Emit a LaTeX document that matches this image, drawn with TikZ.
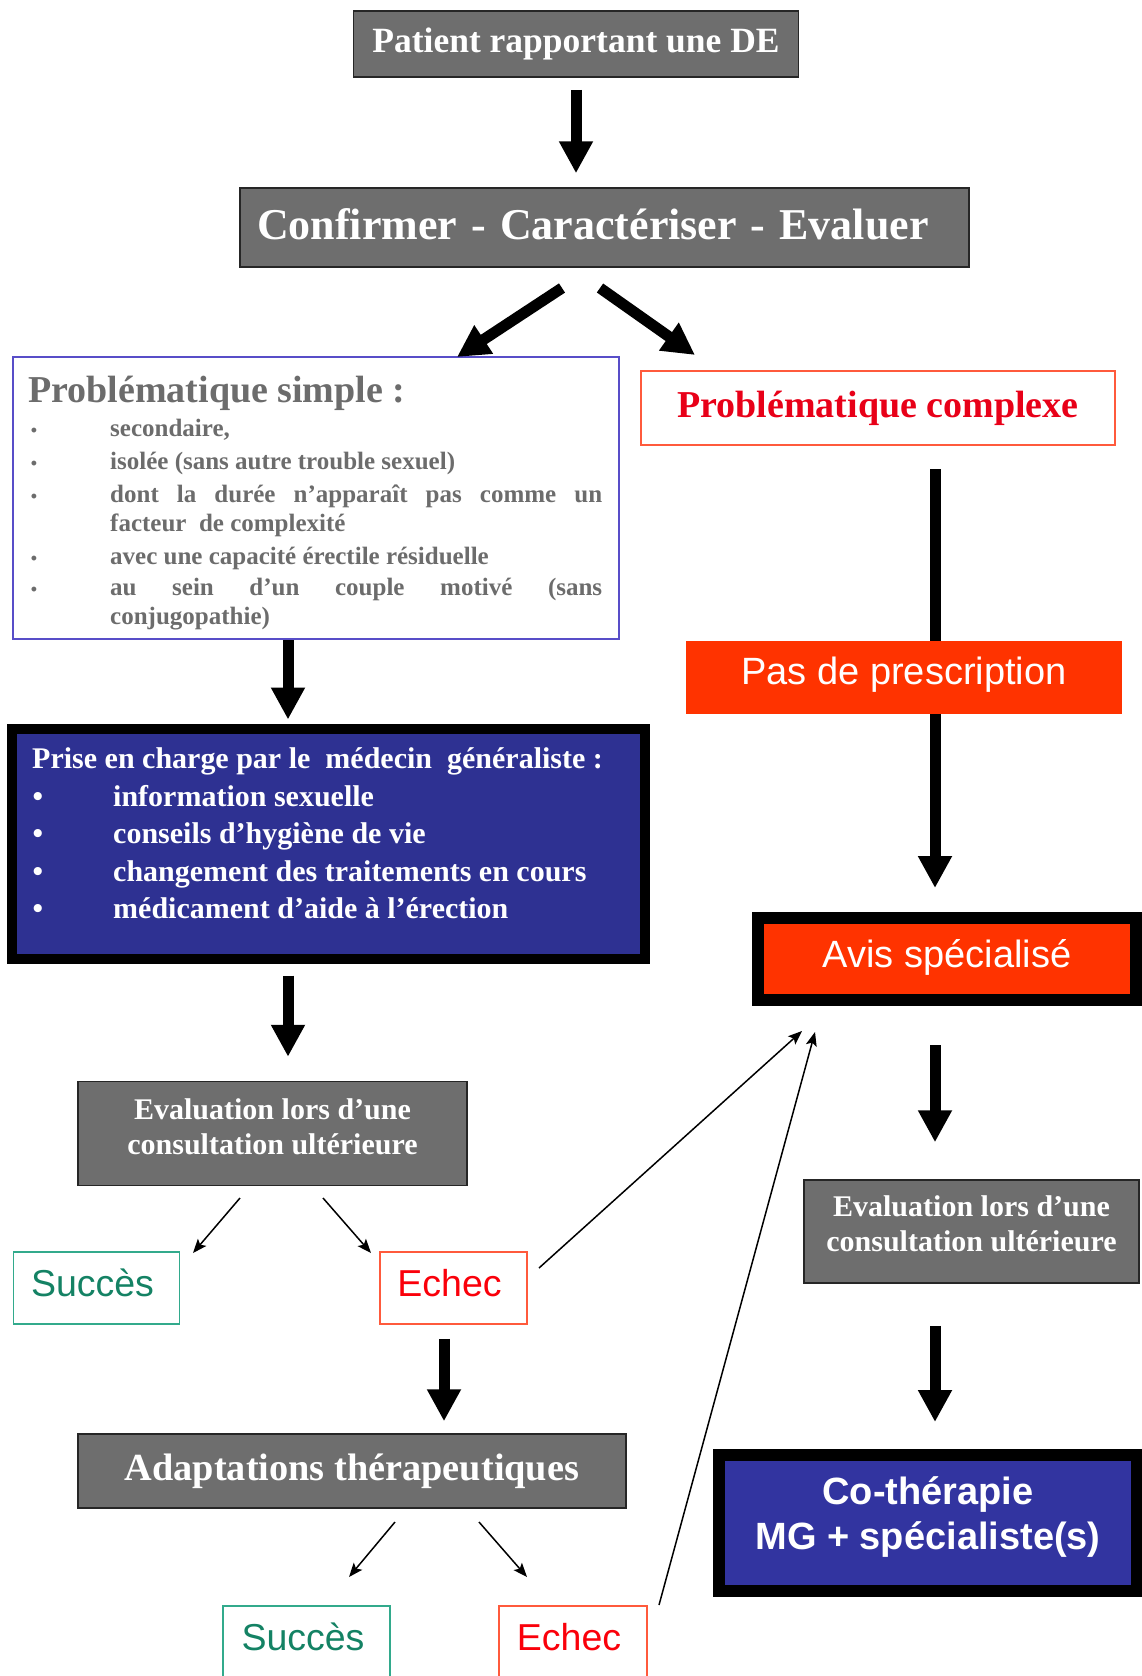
\documentclass[tikz,border=0pt]{standalone}
\usepackage{fontspec}
\setmainfont{Liberation Serif}
\newfontfamily\arialf{Liberation Sans}
\usetikzlibrary{arrows.meta,calc}
\newcommand\myfs[2]{\fontsize{#1}{#2}\selectfont}
\newcommand\liftx[2]{\raisebox{#1}[\height][\depth]{#2}}
\definecolor{boxgray}{RGB}{110,110,110}
\definecolor{simpleblue}{RGB}{88,78,200}
\definecolor{textgray}{RGB}{108,108,108}
\definecolor{prisblue}{RGB}{46,49,146}
\definecolor{cotheblue}{RGB}{50,52,160}
\definecolor{orangered}{RGB}{255,51,0}
\definecolor{redtext}{RGB}{232,0,24}
\definecolor{redborder}{RGB}{255,90,60}
\definecolor{echectext}{RGB}{250,0,10}
\definecolor{tealtext}{RGB}{20,130,100}
\definecolor{tealborder}{RGB}{50,170,140}
\begin{document}
\begin{tikzpicture}[x=1pt,y=-1pt,
  graybox/.style={draw=black!85, line width=1.5pt, fill=boxgray, text=white, inner sep=0pt},
  orangebox/.style={fill=orangered, text=white, inner sep=0pt, font={\arialf\myfs{38}{44}}},
  framebox/.style={draw=black, line width=12pt, inner sep=0pt, text=white},
  succbox/.style={draw=tealborder, line width=1.5pt, text=tealtext, inner sep=0pt, minimum height=72pt, font={\arialf\myfs{37.5}{42}}},
  echbox/.style={draw=redborder, line width=1.5pt, text=echectext, inner sep=0pt, minimum height=72pt, font={\arialf\myfs{37.5}{42}}},
  stext/.style={inner sep=0pt, anchor=base west, text=textgray, font={\myfs{25}{29}\bfseries}},
  sbul/.style={inner sep=0pt, anchor=base, text=textgray, font={\myfs{18}{20}\bfseries}},
  ptext/.style={inner sep=0pt, anchor=base west, text=white, font={\myfs{30}{34}\bfseries}},
  pbul/.style={inner sep=0pt, anchor=base, text=white, font={\myfs{30}{34}\bfseries}},
  bigarrow/.style={line width=11pt, -{Triangle[length=32pt,width=32pt]}},
  thickline/.style={line width=11pt},
  thinarrow/.style={line width=1.5pt, -{Stealth[length=14pt,width=11pt,inset=3pt]}}
]
\useasboundingbox (0,0) rectangle (1142,1676);

% --- boxes ---
\node[graybox, minimum width=445pt, minimum height=66pt, font={\myfs{35.5}{40}\bfseries}] (patient) at (576,44) {Patient rapportant une DE};
\node[graybox, minimum width=729pt, minimum height=79pt, font={\myfs{44}{50}\bfseries}] (confirm) at (604.5,227.5)
  {\liftx{3pt}{\makebox[729pt][l]{\hspace{17pt}Confirmer\hspace{14pt}-\hspace{14pt}Caractériser\hspace{14pt}-\hspace{14pt}Evaluer}}};

\node[draw=simpleblue, line width=2pt, minimum width=606pt, minimum height=282pt, inner sep=0pt] (simple) at (316,498) {};
\node[inner sep=0pt, anchor=base west, text=textgray, font={\myfs{38}{44}\bfseries}] (stitle) at (28,402) {Problématique simple :};
\node[sbul] (sb1) at (34,436) {•};
\node[stext] (si1) at (110,436) {secondaire,};
\node[sbul] (sb2) at (34,469) {•};
\node[stext] (si2) at (110,469) {isolée (sans autre trouble sexuel)};
\node[sbul] (sb3) at (34,502) {•};
\node[stext] (si3) at (110,502) {\parbox[t]{492pt}{dont la durée n’apparaît pas comme un\linebreak facteur\ \ de complexité}};
\node[sbul] (sb4) at (34,564) {•};
\node[stext] (si4) at (110,564) {avec une capacité érectile résiduelle};
\node[sbul] (sb5) at (34,595) {•};
\node[stext] (si5) at (110,595) {\parbox[t]{492pt}{au sein d’un couple motivé (sans\linebreak conjugopathie)}};

\node[draw=redborder, line width=2pt, minimum width=474pt, minimum height=74pt, inner sep=0pt, text=redtext, font={\myfs{38}{44}\bfseries}] (complexe) at (878,408) {Problématique complexe};

\node[orangebox, minimum width=436pt, minimum height=73pt] (pas) at (904,677.5) {\liftx{3pt}{Pas de prescription}};

\node[framebox, line width=10pt, fill=prisblue, minimum width=633pt, minimum height=230pt] (prise) at (328.5,843.5) {};
\node[ptext] (ptitle) at (32,768) {Prise en charge par le\ \ médecin\ \ généraliste :};
\node[pbul] (pb1) at (38,806) {•};
\node[ptext] (pi1) at (113,806) {information sexuelle};
\node[pbul] (pb2) at (38,843) {•};
\node[ptext] (pi2) at (113,843) {conseils d’hygiène de vie};
\node[pbul] (pb3) at (38,881) {•};
\node[ptext] (pi3) at (113,881) {changement des traitements en cours};
\node[pbul] (pb4) at (38,918) {•};
\node[ptext] (pi4) at (113,918) {médicament d’aide à l’érection};

\node[framebox, fill=orangered, minimum width=378pt, minimum height=82pt, font={\arialf\myfs{38}{44}}] (avis) at (947,959) {\liftx{2pt}{Avis spécialisé}};

\node[graybox, minimum width=389pt, minimum height=104pt, font={\myfs{30}{35}\bfseries}] (evalL) at (272.5,1133.5)
  {\liftx{4pt}{\begin{tabular}{@{}c@{}}Evaluation lors d’une\\consultation ultérieure\end{tabular}}};
\node[graybox, minimum width=335pt, minimum height=103pt, font={\myfs{30}{35}\bfseries}] (evalR) at (971.5,1231.5)
  {\liftx{5pt}{\begin{tabular}{@{}c@{}}Evaluation lors d’une\\consultation ultérieure\end{tabular}}};

\node[succbox, minimum width=166pt] (succesL) at (96.5,1288) {\liftx{5pt}{\hspace*{-8pt}Succès}};
\node[echbox, minimum width=147pt] (echecL) at (453.5,1288) {\liftx{5pt}{\hspace*{-8pt}Echec}};

\node[graybox, minimum width=548pt, minimum height=74pt, font={\myfs{38.3}{44}\bfseries}] (adapt) at (352,1471) {Adaptations thérapeutiques};

\node[succbox, minimum width=167pt] (succesB) at (306.5,1642) {\liftx{5pt}{\hspace*{-7pt}Succès}};
\node[echbox, minimum width=148pt] (echecB) at (573,1642) {\liftx{5pt}{\hspace*{-8pt}Echec}};

\node[framebox, fill=cotheblue, minimum width=418pt, minimum height=136pt, font={\arialf\myfs{38}{45}\bfseries}] (cothe) at (928,1523)
  {\liftx{5pt}{\begin{tabular}{@{}c@{}}Co-thérapie\\MG + spécialiste(s)\end{tabular}}};

% --- columns and free ends ---
\coordinate (colL) at (288,0);
\coordinate (colM) at (444,0);
\coordinate (colR) at (935,0);
\coordinate (d1s) at (562,288);
\coordinate (d1e) at (457,357);
\coordinate (d2s) at (600,288);
\coordinate (d2e) at (695,355);
\coordinate (t1s) at (240,1198);
\coordinate (t1e) at (193,1253);
\coordinate (t2s) at (323,1198);
\coordinate (t2e) at (371,1253);
\coordinate (t3s) at (539,1268);
\coordinate (t3e) at (802,1031);
\coordinate (t4s) at (395,1522);
\coordinate (t4e) at (349,1577);
\coordinate (t5s) at (479,1522);
\coordinate (t5e) at (527,1577);
\coordinate (t6s) at (659,1605);
\coordinate (t6e) at (815,1032);

% --- connectors ---
\draw[bigarrow, shorten <=12pt, shorten >=14pt] (patient.south) -- (patient.south |- confirm.north);
\draw[bigarrow] (d1s) -- (d1e);
\draw[bigarrow] (d2s) -- (d2e);
\draw[thickline, shorten <=23pt] (colR |- complexe.south) -- (colR |- pas.north);
\draw[bigarrow, shorten >=24pt] (colR |- pas.south) -- (colR |- avis.north);
\draw[bigarrow, shorten >=4pt] (colL |- simple.south) -- (colL |- prise.north);
\draw[bigarrow, shorten <=12pt, shorten >=24pt] (colL |- prise.south) -- (colL |- evalL.north);
\draw[thinarrow] (t1s) -- (t1e);
\draw[thinarrow] (t2s) -- (t2e);
\draw[thinarrow] (t3s) -- (t3e);
\draw[bigarrow, shorten <=14pt, shorten >=12pt] (colM |- echecL.south) -- (colM |- adapt.north);
\draw[thinarrow] (t4s) -- (t4e);
\draw[thinarrow] (t5s) -- (t5e);
\draw[thinarrow] (t6s) -- (t6e);
\draw[bigarrow, shorten <=39pt, shorten >=37pt] (colR |- avis.south) -- (colR |- evalR.north);
\draw[bigarrow, shorten <=42pt, shorten >=27pt] (colR |- evalR.south) -- (colR |- cothe.north);
\end{tikzpicture}
\end{document}
